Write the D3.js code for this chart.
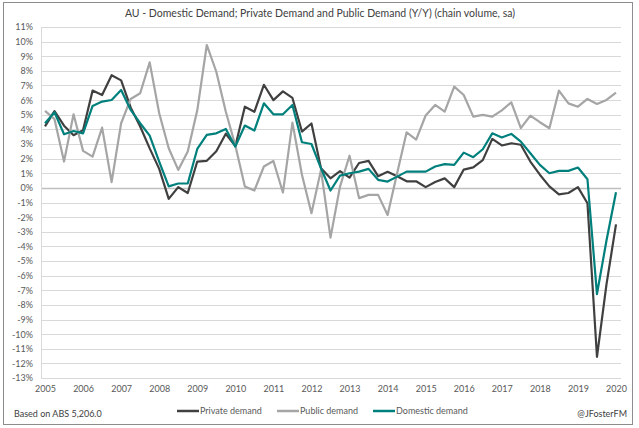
<!DOCTYPE html>
<html>
<head>
<meta charset="utf-8">
<script src="https://cdn.jsdelivr.net/npm/d3@7"></script>
<style>
  body { margin: 0; background: #fff; }
  text { font-family: Lato, "Open Sans", sans-serif; }
</style>
</head>
<body>
<div id="chart"></div>
<script>
// quarterly Y/Y %, first point = 2005 label, last = 2020 label
var years = [2005, 2006, 2007, 2008, 2009, 2010, 2011, 2012, 2013, 2014, 2015, 2016, 2017, 2018, 2019, 2020];

var privateDemand = [4.2, 5.25, 4.25, 3.6, 3.95, 6.65, 6.35, 7.7, 7.35, 5.5,
  4.2, 2.7, 1.3, -0.75, 0.05, -0.35, 1.8, 1.85, 2.5, 3.7,
  2.85, 5.55, 5.2, 7.05, 6.0, 6.6, 6.15, 3.85, 4.4, 1.35,
  0.65, 1.15, 0.7, 1.7, 1.85, 0.8, 1.1, 0.8, 0.45, 0.45,
  0.05, 0.4, 0.65, 0.05, 1.25, 1.4, 1.9, 3.35, 2.9, 3.05,
  2.95, 1.8, 0.9, 0.1, -0.45, -0.35, 0.05, -1.05, -11.55, -6.6, -2.5];

var publicDemand = [5.26, 4.7, 1.8, 5.03, 2.53, 2.14, 4.12, 0.39, 4.42, 6.08,
  6.47, 8.58, 5.1, 2.71, 1.23, 2.48, 5.3, 9.77, 7.94, 5.2,
  2.9, 0.09, -0.18, 1.46, 1.84, -0.32, 4.46, 0.9, -1.73, 1.23,
  -3.4, 0.09, 2.2, -0.7, -0.48, -0.48, -1.85, 1.0, 3.8, 3.3,
  4.95, 5.67, 5.21, 6.92, 6.35, 4.87, 4.99, 4.87, 5.3, 5.85,
  4.08, 4.94, 4.49, 4.08, 6.65, 5.78, 5.55, 6.08, 5.74, 6.01, 6.51];

var domesticDemand = [4.42, 5.17, 3.67, 3.89, 3.73, 5.6, 5.9, 6.01, 6.69, 5.33,
  4.42, 3.57, 1.8, 0.1, 0.3, 0.3, 2.66, 3.62, 3.73, 4.03,
  2.82, 4.26, 3.92, 5.78, 5.03, 5.03, 5.67, 3.12, 3.0, 1.34,
  -0.18, 0.84, 1.0, 1.11, 1.3, 0.55, 0.43, 0.77, 1.11, 1.11,
  1.11, 1.46, 1.62, 1.57, 2.41, 2.1, 2.64, 3.73, 3.45, 3.69,
  3.16, 2.37, 1.57, 1.0, 1.16, 1.16, 1.39, 0.59, -7.26, -3.6, -0.3];

var series = [
  {name: "Private demand", values: privateDemand, color: "#404040"},
  {name: "Public demand", values: publicDemand, color: "#a5a5a5"},
  {name: "Domestic demand", values: domesticDemand, color: "#00807c"}
];

var W = 639, H = 428;
var svg = d3.select("#chart").append("svg")
  .attr("width", W).attr("height", H);

// chart frame
svg.append("rect")
  .attr("x", 3.5).attr("y", 2.5)
  .attr("width", 629).attr("height", 422)
  .attr("fill", "#fff").attr("stroke", "#8c8c8c").attr("stroke-width", 1);

var x = d3.scaleLinear().domain([0, privateDemand.length - 1]).range([45, 616]);
var y = d3.scaleLinear().domain([-13, 11]).range([378, 27]);
var plotLeft = 41, plotRight = 621;

// gridlines
var yTicks = d3.range(-13, 12);
svg.append("g").selectAll("line")
  .data(yTicks).enter().append("line")
  .attr("x1", plotLeft).attr("x2", plotRight)
  .attr("y1", function(d) { return Math.round(y(d)) + 0.5; })
  .attr("y2", function(d) { return Math.round(y(d)) + 0.5; })
  .attr("stroke", function(d) { return d === 0 ? "#bfbfbf" : "#d9d9d9"; })
  .attr("stroke-width", function(d) { return d === 0 ? 1.5 : 1; });

// vertical axis line
svg.append("line")
  .attr("x1", plotLeft + 0.5).attr("x2", plotLeft + 0.5)
  .attr("y1", y(11)).attr("y2", y(-13))
  .attr("stroke", "#d9d9d9");

// y labels
var yAxis = d3.axisLeft(y).tickValues(yTicks)
  .tickFormat(function(d) { return d + "%"; })
  .tickSize(0).tickPadding(0);
var gy = svg.append("g").attr("transform", "translate(33,0)").call(yAxis);
gy.select(".domain").remove();
gy.selectAll("text").attr("fill", "#595959").style("font-size", "9px");

// x labels
var xAxis = d3.axisBottom(x)
  .tickValues(years.map(function(d, i) { return i * 4; }))
  .tickFormat(function(d, i) { return years[i]; })
  .tickSize(0).tickPadding(0);
var gx = svg.append("g").attr("transform", "translate(0,386)").call(xAxis);
gx.select(".domain").remove();
gx.selectAll("text").attr("fill", "#595959").style("font-size", "9px");

// lines
var line = d3.line()
  .x(function(d, i) { return x(i); })
  .y(function(d) { return y(d); });

svg.append("g").selectAll("path")
  .data(series).enter().append("path")
  .attr("d", function(d) { return line(d.values); })
  .attr("fill", "none")
  .attr("stroke", function(d) { return d.color; })
  .attr("stroke-width", 2.2)
  .attr("stroke-linejoin", "round");

// title
svg.append("text")
  .attr("x", 320).attr("y", 17)
  .attr("text-anchor", "middle")
  .attr("fill", "#404040")
  .style("font-size", "10.5px")
  .text("AU - Domestic Demand; Private Demand and Public Demand (Y/Y) (chain volume, sa)");

// legend
var legendX = [177, 277, 373];
var lg = svg.append("g").selectAll("g")
  .data(series).enter().append("g")
  .attr("transform", function(d, i) { return "translate(" + legendX[i] + ",411)"; });
lg.append("line")
  .attr("x1", 0).attr("x2", 22).attr("y1", 0).attr("y2", 0)
  .attr("stroke", function(d) { return d.color; })
  .attr("stroke-width", 2.5);
lg.append("text")
  .attr("x", 23).attr("y", 3)
  .attr("fill", "#595959")
  .style("font-size", "9px")
  .text(function(d) { return d.name; });

// footnotes
svg.append("text")
  .attr("x", 14).attr("y", 417)
  .attr("fill", "#404040").style("font-size", "9px")
  .text("Based on ABS 5,206.0");
svg.append("text")
  .attr("x", 627).attr("y", 417)
  .attr("text-anchor", "end")
  .attr("fill", "#404040").style("font-size", "9px")
  .text("@JFosterFM");
</script>
</body>
</html>
